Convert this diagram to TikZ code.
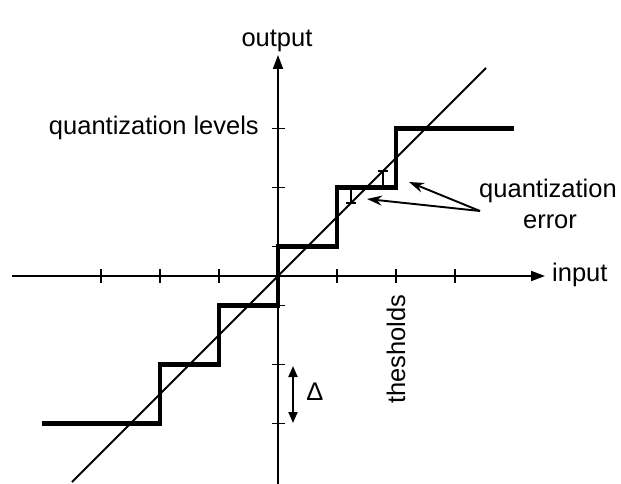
\documentclass[tikz,border=0pt]{standalone}
\usepackage{fontspec}
\setmainfont{Liberation Sans}
\usetikzlibrary{arrows.meta}
\begin{document}
\begin{tikzpicture}[x=1pt,y=-1pt,
  axis/.style={line width=1.9pt,-{Triangle[length=14pt,width=10pt]}},
  tickmark/.style={line width=1.6pt},
  stair/.style={line width=4.4pt,line join=miter},
  diag/.style={line width=2pt},
  errbar/.style={line width=1.3pt},
  lbl/.style={inner sep=0pt,font=\fontsize{25.5}{30}\selectfont},
  pointer/.style={line width=1.9pt,-{Stealth[length=15pt,width=10pt]}}]
\useasboundingbox (0,0) rectangle (621,484);
\fill[white] (0,0) rectangle (621,484);
% axes
\coordinate (O) at (278,276);
\coordinate (xl) at (12,276);
\coordinate (xr) at (545,276);
\coordinate (yb) at (278,484);
\coordinate (yt) at (278,55);
\draw[axis] (xl) -- (xr);
\draw[axis] (yb) -- (yt);
% ticks
\foreach \x in {101,160,219,337,396,455}
  \draw[tickmark] (\x,269) -- (\x,283);
\foreach \y in {128.5,187.5,246.5,305.5,364.5,423.5}
  \draw[tickmark] (272,\y) -- (285,\y);
% diagonal
\coordinate (d1) at (72,482);
\coordinate (d2) at (486,68);
\draw[diag] (d1) -- (d2);
% staircase
\draw[stair] (42,423.5) -- (160,423.5) -- (160,364.5) -- (219,364.5) -- (219,305.5)
  -- (278,305.5) -- (278,246.5) -- (337,246.5) -- (337,187.5) -- (396,187.5)
  -- (396,128.5) -- (514,128.5);
% error markers
\coordinate (e1a) at (351,187.5);
\coordinate (e1b) at (351,203);
\coordinate (e2a) at (383,187.5);
\coordinate (e2b) at (383,171);
\draw[errbar] (e1a) -- (e1b) (346,203) -- (356,203);
\draw[errbar] (e2a) -- (e2b) (378,171) -- (388,171);
% labels
\node[lbl,anchor=base] (out) at (277,47) {output};
\node[lbl,anchor=base east] (ql) at (259,135) {quantization levels};
\node[lbl,anchor=base west] (inp) at (552,281) {input};
\node[lbl,anchor=base] (qe1) at (548,197) {quantization};
\node[lbl,anchor=base] (qe2) at (550,228) {error};
\node[lbl,anchor=base,rotate=90] (th) at (405,349) {thesholds};
\node[lbl] (delta) at (315,392) {Δ};
% quantization error pointers
\coordinate (T) at (480,211);
\coordinate (h1) at (409,182);
\coordinate (h2) at (367,199);
\draw[pointer] (T) -- (h1);
\draw[pointer] (T) -- (h2);
% delta arrow
\coordinate (da) at (293,366);
\coordinate (db) at (293,423);
\draw[line width=1.9pt,{Triangle[length=11pt,width=9pt]}-{Triangle[length=11pt,width=9pt]}] (da) -- (db);
\end{tikzpicture}
\end{document}
